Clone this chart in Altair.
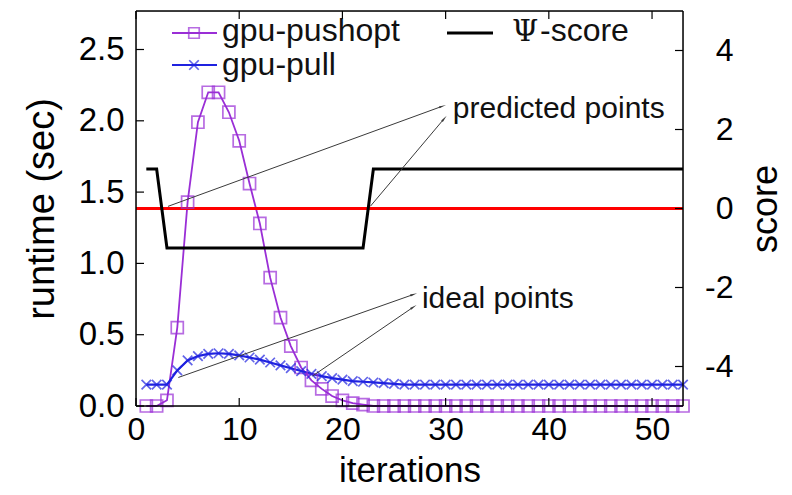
import math
import altair as alt
import pandas as pd

# ---------------- data ----------------
iterations = list(range(1, 54))
gpu_pushopt = [0.00, 0.00, 0.04, 0.55, 1.43, 1.99, 2.20, 2.20, 2.06, 1.86,
               1.56, 1.28, 0.90, 0.62, 0.42, 0.27, 0.18, 0.12, 0.07, 0.04,
               0.02, 0.01] + [0.00] * 31
gpu_pull = [0.15, 0.15, 0.15, 0.25, 0.32, 0.35, 0.365, 0.37, 0.365, 0.355,
            0.34, 0.325, 0.305, 0.285, 0.265, 0.245, 0.225, 0.21, 0.195, 0.185,
            0.175, 0.17, 0.165, 0.16, 0.155] + [0.15] * 28
psi_score = [1, 1] + [-1] * 20 + [1] * 31

x_ticks = [0, 10, 20, 30, 40, 50]
left_ticks = [0.0, 0.5, 1.0, 1.5, 2.0, 2.5]
right_ticks = [-4, -2, 0, 2, 4]
threshold = [0]

ann_labels = ["predicted points", "ideal points"]
ann_x = [30.7, 27.7]
ann_y = [2.08, 0.75]
arrow_x1 = [3.1, 22.7, 4.1, 17.1]
arrow_y1 = [1.40, 1.40, 0.20, 0.21]
arrow_x2 = [29.6, 29.8, 26.8, 26.8]
arrow_y2 = [2.10, 2.01, 0.78, 0.69]

# ---------------- styling ----------------
W, H = 547, 395
FONT = "Liberation Sans"
PURPLE = "#9a2ed6"
BLUE = "#1f22e0"
XMAX, YLMAX = 53, 2.77

xs = alt.Scale(domain=[0, XMAX], nice=False, zero=False)
yl = alt.Scale(domain=[0, YLMAX], nice=False, zero=False)
yr = alt.Scale(domain=[-5, 5], nice=False, zero=False)

df = pd.DataFrame({"iter": iterations, "pushopt": gpu_pushopt,
                   "pull": gpu_pull, "psi": psi_score})

x_axis = alt.Axis(values=x_ticks, title="iterations", labelFontSize=32,
                  titleFontSize=35, labelPadding=8, tickSize=0, domain=False,
                  grid=False, labelFlush=False, titleX=W / 2, titleY=64,
                  titleBaseline="middle", titleFontWeight="normal")
left_axis = alt.Axis(values=left_ticks, format=".1f", orient="left",
                     title="runtime (sec)", labelFontSize=33, titleFontSize=38,
                     labelPadding=12, tickSize=0, domain=False, grid=False,
                     labelFlush=False, titleAngle=270, titleX=-94, titleY=H / 2,
                     titleAlign="center", titleBaseline="middle",
                     titleFontWeight="normal")
right_axis = alt.Axis(values=right_ticks, orient="right", title="score",
                      labelExpr="'' + datum.value",
                      labelFontSize=32, titleFontSize=36, labelAlign="right",
                      labelPadding=50, tickSize=0, domain=False, grid=False,
                      labelFlush=False, titleAngle=270, titleX=82, titleY=H / 2,
                      titleAlign="center", titleBaseline="middle",
                      titleFontWeight="normal")

X = alt.X("iter:Q", scale=xs, axis=x_axis)
Xn = alt.X("iter:Q", scale=xs, axis=None)

base = alt.Chart(df)

push_line = base.mark_line(color=PURPLE, strokeWidth=1.8).encode(
    x=X, y=alt.Y("pushopt:Q", scale=yl, axis=left_axis))
push_pts = base.mark_point(shape="square", filled=False, color=PURPLE,
                           size=145, strokeWidth=1.7).encode(
    x=Xn, y=alt.Y("pushopt:Q", scale=yl, axis=None))
pull_line = base.mark_line(color=BLUE, strokeWidth=2.2).encode(
    x=Xn, y=alt.Y("pull:Q", scale=yl, axis=None))
pull_pts = base.mark_point(shape="M-1,-1L1,1M-1,1L1,-1", filled=False,
                           color=BLUE, size=90, strokeWidth=1.7).encode(
    x=Xn, y=alt.Y("pull:Q", scale=yl, axis=None))

# inward tick marks (gnuplot style)
xt_df = pd.DataFrame({"xt": x_ticks})
xt_bottom = alt.Chart(xt_df).mark_rule(color="black", strokeWidth=1.2).encode(
    x=alt.X("xt:Q", scale=xs, axis=None), y=alt.value(H), y2=alt.value(H - 8))
xt_top = alt.Chart(xt_df).mark_rule(color="black", strokeWidth=1.2).encode(
    x=alt.X("xt:Q", scale=xs, axis=None), y=alt.value(0), y2=alt.value(8))
yt_left = alt.Chart(pd.DataFrame({"yt": left_ticks})).mark_rule(
    color="black", strokeWidth=1.2).encode(
    y=alt.Y("yt:Q", scale=yl, axis=None), x=alt.value(0), x2=alt.value(8))
yt_right = alt.Chart(pd.DataFrame({"st": right_ticks})).mark_rule(
    color="black", strokeWidth=1.2).encode(
    y=alt.Y("st:Q", scale=yr, axis=None), x=alt.value(W), x2=alt.value(W - 8))

# annotations
ar = pd.DataFrame({"x1": arrow_x1, "y1": arrow_y1, "x2": arrow_x2, "y2": arrow_y2})
ar["ang"] = [
    (math.degrees(math.atan2((b - a) * W / XMAX, (d - c) * H / YLMAX)) + 360) % 360
    for a, b, c, d in zip(arrow_x1, arrow_x2, arrow_y1, arrow_y2)
]
arrows = alt.Chart(ar).mark_rule(color="#3a3a3a", strokeWidth=1).encode(
    x=alt.X("x1:Q", scale=xs, axis=None), x2="x2:Q",
    y=alt.Y("y1:Q", scale=yl, axis=None), y2="y2:Q")
heads = alt.Chart(ar).mark_point(shape="wedge", filled=True, color="#3a3a3a",
                                 size=70, opacity=1).encode(
    x=alt.X("x2:Q", scale=xs, axis=None),
    y=alt.Y("y2:Q", scale=yl, axis=None),
    angle=alt.Angle("ang:Q", scale=None))
ann_df = pd.DataFrame({"label": ann_labels, "x": ann_x, "y": ann_y})
ann_text = alt.Chart(ann_df).mark_text(font=FONT, fontSize=30, align="left",
                                       baseline="middle", color="#111").encode(
    x=alt.X("x:Q", scale=xs, axis=None), y=alt.Y("y:Q", scale=yl, axis=None),
    text="label:N")

# score side
red_line = alt.Chart(pd.DataFrame({"t": threshold})).mark_rule(
    color="#ff0000", strokeWidth=3).encode(
    y=alt.Y("t:Q", scale=yr, axis=None), x=alt.value(0), x2=alt.value(W))
psi_line = base.mark_line(color="black", strokeWidth=3).encode(
    x=Xn, y=alt.Y("psi:Q", scale=yr, axis=right_axis))

# plot frame
one = pd.DataFrame({"a": [0]})
def frame_line(x1, x2, y1, y2):
    return alt.Chart(one).mark_rule(color="black", strokeWidth=1.5).encode(
        x=alt.value(x1), x2=alt.value(x2), y=alt.value(y1), y2=alt.value(y2))
frame = [frame_line(0, W, 0, 0), frame_line(0, W, H, H),
         frame_line(0, 0, 0, H), frame_line(W, W, 0, H)]

# manual key
def key_text(txt, x, y, font=FONT, size=32):
    return alt.Chart(one).mark_text(font=font, fontSize=size, align="left",
                                    baseline="middle", color="#111").encode(
        x=alt.value(x), y=alt.value(y), text=alt.value(txt))
def key_line(x1, x2, y, color, width):
    return alt.Chart(one).mark_rule(color=color, strokeWidth=width).encode(
        x=alt.value(x1), x2=alt.value(x2), y=alt.value(y))

key = [
    key_line(36, 81, 22, PURPLE, 1.8),
    alt.Chart(one).mark_point(shape="square", filled=False, color=PURPLE,
                              size=110, strokeWidth=1.7).encode(
        x=alt.value(58), y=alt.value(22)),
    key_text("gpu-pushopt", 86, 20),
    key_line(36, 81, 54, BLUE, 2.2),
    alt.Chart(one).mark_point(shape="M-1,-1L1,1M-1,1L1,-1", filled=False,
                              color=BLUE, size=90, strokeWidth=1.7).encode(
        x=alt.value(58), y=alt.value(54)),
    key_text("gpu-pull", 86, 54),
    key_line(311, 357, 22, "black", 3),
    key_text("\u03a8", 376, 21, font="DejaVu Serif", size=30),
    key_text("-score", 404, 20),
]

layers = [push_line, red_line, psi_line, pull_line, push_pts, pull_pts,
          xt_bottom, xt_top, yt_left, yt_right, arrows, heads, ann_text] + frame + key

chart = alt.layer(*layers).resolve_scale(
    x="independent", y="independent").properties(
    width=W, height=H,
    autosize=alt.AutoSizeParams(type="none"),
    padding={"left": 128, "top": 3, "right": 101, "bottom": 81},
).configure_view(stroke="black", strokeWidth=1.5).configure_axis(
    labelFont=FONT, titleFont=FONT, labelColor="#111", titleColor="#111"
).configure(background="white")

chart.save("out.html", embed_options={"renderer": "svg", "actions": False})
